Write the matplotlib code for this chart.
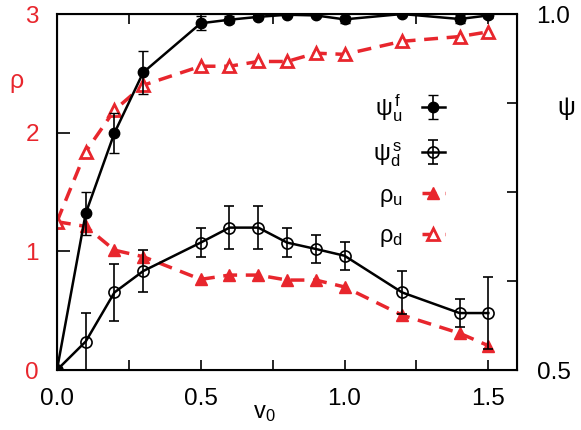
import matplotlib
matplotlib.use('Agg')
import matplotlib.pyplot as plt

plt.rcParams['font.family'] = ['Liberation Sans', 'DejaVu Sans']
plt.rcParams['mathtext.default'] = 'regular'

RED = '#e8262d'

v0 = [0.0, 0.1, 0.2, 0.3, 0.5, 0.6, 0.7, 0.8, 0.9, 1.0, 1.2, 1.4, 1.5]

# psi (right axis)
psi_uf = [0.5, 0.72, 0.833, 0.918, 0.987, 0.992, 0.996, 0.999, 0.998, 0.9925, 1.0, 0.993, 0.998]
psi_uf_err = [0.0, 0.03, 0.028, 0.03, 0.01, 0.005, 0.003, 0.002, 0.002, 0.005, 0.002, 0.006, 0.003]
psi_ds = [0.5, 0.54, 0.609, 0.639, 0.679, 0.70, 0.70, 0.679, 0.670, 0.6605, 0.609, 0.58, 0.58]
psi_ds_err = [0.0, 0.04, 0.04, 0.029, 0.02, 0.03, 0.03, 0.02, 0.02, 0.02, 0.03, 0.02, 0.05]

# rho (left axis)
rho_u = [1.25, 1.21, 1.01, 0.955, 0.764, 0.80, 0.80, 0.758, 0.758, 0.70, 0.463, 0.31, 0.205]
rho_d = [1.25, 1.84, 2.19, 2.40, 2.56, 2.56, 2.60, 2.60, 2.67, 2.66, 2.77, 2.81, 2.85]

fig = plt.figure(figsize=(5.81, 4.30), dpi=100)
ax = fig.add_axes([0.098, 0.1395, 0.792, 0.8279])
ax2 = ax.twinx()

l_ru, = ax.plot(v0, rho_u, '--', color=RED, lw=2.5, dashes=(4, 2.5),
                marker='^', ms=9, mfc=RED, mec=RED, label=r'$\rho_u$')
l_rd, = ax.plot(v0, rho_d, '--', color=RED, lw=2.5, dashes=(4, 2.5),
                marker='^', ms=9, mfc='white', mec=RED, mew=2, label=r'$\rho_d$')

e_uf = ax2.errorbar(v0, psi_uf, yerr=psi_uf_err, color='black', lw=1.8, marker='o',
                    ms=7.5, mfc='black', capsize=3.5, elinewidth=1.2, label=r'$\psi_u^{\,f}$')
e_ds = ax2.errorbar(v0, psi_ds, yerr=psi_ds_err, color='black', lw=1.8, marker='o',
                    ms=8, mfc='none', mew=1.2, capsize=3.5, elinewidth=1.2, label=r'$\psi_d^{\,s}$')

ax.set_xlim(0, 1.6)
ax.set_ylim(0, 3)
ax2.set_ylim(0.5, 1.0)

ax.set_xticks([0.0, 0.5, 1.0, 1.5])
ax.set_xticklabels(['0.0', '0.5', '1.0', '1.5'])
ax.set_xticks([0.25, 0.75, 1.25], minor=True)
ax.set_yticks([0, 1, 2, 3])
ax.tick_params(axis='x', which='both', direction='in', top=True, labelsize=17.5, pad=13,
               length=7, width=1.2)
ax.tick_params(axis='y', direction='in', labelsize=17.5, labelcolor=RED, length=9,
               width=1.2, pad=13)
ax2.set_yticks([0.5, 0.625, 0.75, 0.875, 1.0])
ax2.set_yticklabels(['0.5', '', '', '', '1.0'])
ax2.tick_params(axis='y', direction='in', labelsize=17.5, length=7, width=1.2, pad=14)

for sp in ax2.spines.values():
    sp.set_linewidth(1.5)

ax.set_xlabel(r'$v_0$', fontsize=17)
ax.xaxis.set_label_coords(0.45, -0.09)
fig.text(17 / 581, 1 - 83 / 430, r'$\rho$', fontsize=18, color=RED, ha='center', va='center')
fig.text(566 / 581, 1 - 108 / 430, r'$\psi$', fontsize=18, ha='center', va='center')

ax2.legend([e_uf, e_ds, l_ru, l_rd],
           [r'$\psi_u^{\,f}$', r'$\psi_d^{\,s}$', r'$\rho_u$', r'$\rho_d$'],
           loc='upper right', bbox_to_anchor=(0.89, 0.84), frameon=False,
           markerfirst=False, fontsize=17, handlelength=1.0, labelspacing=0.68,
           handletextpad=0.8)

fig.savefig('out.png', dpi=100)
